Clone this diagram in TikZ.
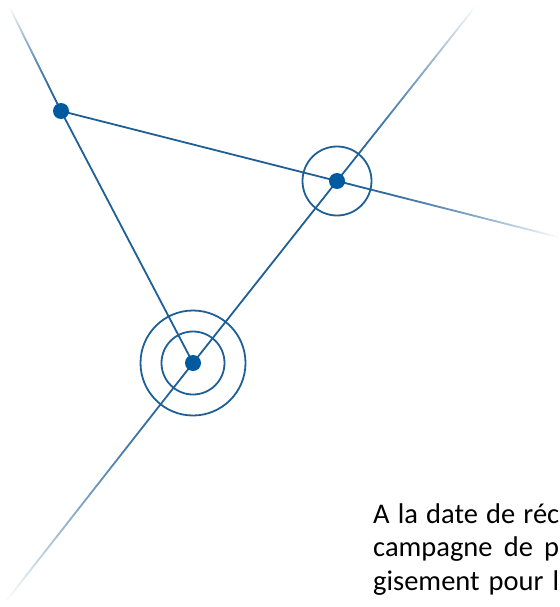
\documentclass[tikz,border=0pt]{standalone}
\usepackage{fontspec}
\setmainfont{Carlito}
\usetikzlibrary{calc}
\definecolor{linecol}{RGB}{30,95,150}
\definecolor{dotcol}{RGB}{0,90,160}
\tikzset{
  conn/.style={draw=linecol, line width=1.8pt},
  ring/.style={draw=linecol, line width=1.8pt, fill=none},
  dot/.style={circle, fill=dotcol, minimum size=16pt, inner sep=0pt},
  txt/.style={anchor=base west, inner sep=0pt, font=\fontsize{28.5}{33}\selectfont, text=black}
}
\newcommand{\fadeline}[2]{%
  \foreach \i in {0,...,49}{%
    \pgfmathsetmacro{\pct}{100*(1-(\i/50)^1.6)}%
    \draw[line width=1.8pt, color=linecol!\pct!white, line cap=round]
      ($(#1)!\i/50!(#2)$) -- ($(#1)!{(\i+1)/50}!(#2)$);
  }}
\newcommand{\jline}[1]{\makebox[186pt][s]{#1}}
\begin{document}
\begin{tikzpicture}[x=1pt,y=-1pt]
\useasboundingbox (0,0) rectangle (559,607);
\clip (0,0) rectangle (559,607);
\coordinate (a) at (61,111);
\coordinate (b) at (337,181);
\coordinate (c) at (193,363);
\coordinate (tl) at (10,8);
\coordinate (rt) at (558,237);
\coordinate (tr) at (475,7);
\coordinate (bl) at (7,600);
% fading ends
\fadeline{a}{tl}
\fadeline{b}{rt}
\fadeline{b}{tr}
\fadeline{c}{bl}
% solid connectors
\draw[conn] (a) -- (b);
\draw[conn] (a) -- (c);
\draw[conn] (c) -- (b);
% rings
\draw[ring] (b) circle (34.5);
\draw[ring] (c) circle (31.5);
\draw[ring] (c) circle (52.5);
% dots
\node[dot] (A) at (a) {};
\node[dot] (B) at (b) {};
\node[dot] (C) at (c) {};
% text (justified lines, as visible in the reference)
\node[txt] (t1) at (373,523) {\jline{A la date de réc}};
\node[txt] (t2) at (373,556) {\jline{campagne de p}};
\node[txt] (t3) at (373,590) {\jline{gisement pour l}};
\end{tikzpicture}
\end{document}
